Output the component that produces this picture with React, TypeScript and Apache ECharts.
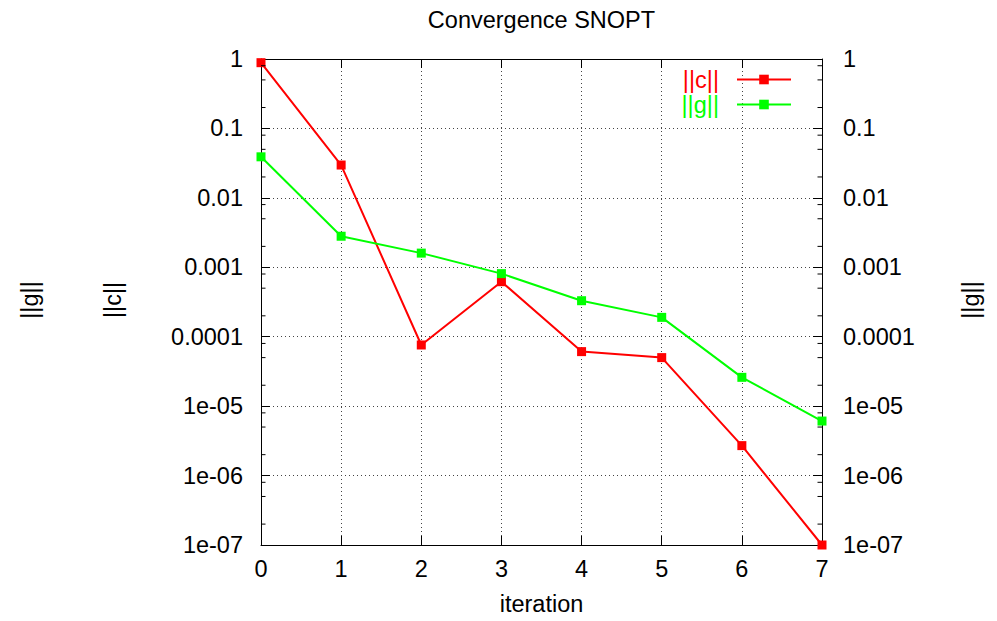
import React, { useEffect, useRef } from 'react';
import * as echarts from 'echarts';

const ITERATIONS = [0, 1, 2, 3, 4, 5, 6, 7];
const C_NORM = [0.885, 0.0297, 7.6e-5, 6.2e-4, 6.1e-5, 5.0e-5, 2.7e-6, 1.0e-7];
const G_NORM = [0.039, 0.0028, 0.0016, 8.1e-4, 3.3e-4, 1.9e-4, 2.6e-5, 6.1e-6];
const Y_TICK_LABELS = ['1', '0.1', '0.01', '0.001', '0.0001', '1e-05', '1e-06', '1e-07'];
const MINOR_MULTIPLIERS = [2, 5, 8];
const MINOR_EXPONENTS = [-7, -6, -5, -4, -3, -2, -1];

const FONT = '"Liberation Sans", Arial, Helvetica, sans-serif';
const FS = 23.5;
const RED = '#ff0000';
const GREEN = '#00ff00';

export default function App() {
  const ref = useRef<HTMLDivElement>(null);

  useEffect(() => {
    if (!ref.current) return;
    const chart = echarts.init(ref.current, undefined, { renderer: 'svg' });

    const fmt = (v: number) => {
      const e = Math.round(Math.log10(v));
      return Y_TICK_LABELS[-e] ?? '';
    };

    const gridLine = { show: true, lineStyle: { color: '#444', type: [1, 3] as any, width: 1 } };
    const axisLine = { show: true, onZero: false, lineStyle: { color: '#000', width: 1 } };
    const tick = { show: true, inside: true, length: 9, lineStyle: { color: '#000', width: 1 } };
    const label = { fontSize: FS, fontFamily: FONT, color: '#000' };

    const option: any = {
      animation: false,
      backgroundColor: '#fff',
      title: {
        text: 'Convergence SNOPT',
        left: 541.5,
        textAlign: 'center',
        top: 8,
        padding: 0,
        textStyle: { fontSize: FS, fontFamily: FONT, fontWeight: 'normal', color: '#000' },
      },
      legend: {
        data: [
          { name: '||c||', textStyle: { color: RED } },
          { name: '||g||', textStyle: { color: GREEN } },
        ],
        orient: 'vertical',
        right: 205,
        top: 67,
        align: 'right',
        itemWidth: 54,
        itemHeight: 12,
        itemGap: 0,
        padding: 0,
        textStyle: { fontSize: FS, fontFamily: FONT, lineHeight: 25, padding: [0, 13, 0, 0] },
      },
      grid: { left: 261, right: 175, top: 59, bottom: 76 },
      xAxis: [
        {
          type: 'value',
          min: 0,
          max: 7,
          interval: 1,
          position: 'bottom',
          axisLine,
          axisTick: tick,
          axisLabel: { ...label, margin: 12 },
          splitLine: gridLine,
          name: 'iteration',
          nameLocation: 'middle',
          nameGap: 47,
          nameTextStyle: { fontSize: FS, fontFamily: FONT, color: '#000' },
        },
        {
          type: 'value',
          min: 0,
          max: 7,
          interval: 1,
          position: 'top',
          axisLine,
          axisTick: tick,
          axisLabel: { show: false },
          splitLine: { show: false },
        },
      ],
      yAxis: [
        {
          type: 'log',
          logBase: 10,
          min: 1e-7,
          max: 1,
          interval: 1,
          position: 'left',
          axisLine,
          axisTick: tick,
          axisLabel: { ...label, margin: 18, formatter: fmt },
          splitLine: gridLine,
        },
        {
          type: 'log',
          logBase: 10,
          min: 1e-7,
          max: 1,
          interval: 1,
          position: 'right',
          axisLine,
          axisTick: tick,
          axisLabel: { ...label, margin: 21, formatter: fmt },
          splitLine: { show: false },
        },
      ],
      series: [
        {
          name: '||c||',
          type: 'line',
          xAxisIndex: 0,
          yAxisIndex: 0,
          data: ITERATIONS.map((x, i) => [x, C_NORM[i]]),
          symbol: 'rect',
          symbolSize: 9,
          lineStyle: { color: RED, width: 2 },
          itemStyle: { color: RED },
        },
        {
          name: '||g||',
          type: 'line',
          xAxisIndex: 0,
          yAxisIndex: 0,
          data: ITERATIONS.map((x, i) => [x, G_NORM[i]]),
          symbol: 'rect',
          symbolSize: 9,
          lineStyle: { color: GREEN, width: 2 },
          itemStyle: { color: GREEN },
        },
      ],
      graphic: [
        {
          id: 'ylab-g-left',
          type: 'text',
          x: 30,
          y: 300,
          rotation: Math.PI / 2,
          style: { text: '||g||', fontSize: FS, fontFamily: FONT, fill: '#000', align: 'center', verticalAlign: 'middle' },
        },
        {
          id: 'ylab-c-left',
          type: 'text',
          x: 113,
          y: 300,
          rotation: Math.PI / 2,
          style: { text: '||c||', fontSize: FS, fontFamily: FONT, fill: '#000', align: 'center', verticalAlign: 'middle' },
        },
        {
          id: 'ylab-g-right',
          type: 'text',
          x: 971,
          y: 300,
          rotation: Math.PI / 2,
          style: { text: '||g||', fontSize: FS, fontFamily: FONT, fill: '#000', align: 'center', verticalAlign: 'middle' },
        },
      ],
    };

    chart.setOption(option);

    const xl = chart.convertToPixel({ xAxisIndex: 0 }, 0) as number;
    const xr = chart.convertToPixel({ xAxisIndex: 0 }, 7) as number;
    const minor: any[] = [];
    MINOR_EXPONENTS.forEach((e) => {
      MINOR_MULTIPLIERS.forEach((m) => {
        const v = m * Math.pow(10, e);
        const y = chart.convertToPixel({ yAxisIndex: 0 }, v) as number;
        minor.push({
          id: `mt-l-${e}-${m}`,
          type: 'line',
          shape: { x1: xl, y1: y, x2: xl + 4.5, y2: y },
          style: { stroke: '#000', lineWidth: 1 },
          z: 5,
        });
        minor.push({
          id: `mt-r-${e}-${m}`,
          type: 'line',
          shape: { x1: xr, y1: y, x2: xr - 4.5, y2: y },
          style: { stroke: '#000', lineWidth: 1 },
          z: 5,
        });
      });
    });
    chart.setOption({ graphic: minor });

    return () => chart.dispose();
  }, []);

  return (
    <div
      ref={ref}
      style={{ position: 'fixed', left: 0, top: 0, width: 997, height: 621, background: '#fff' }}
    />
  );
}
